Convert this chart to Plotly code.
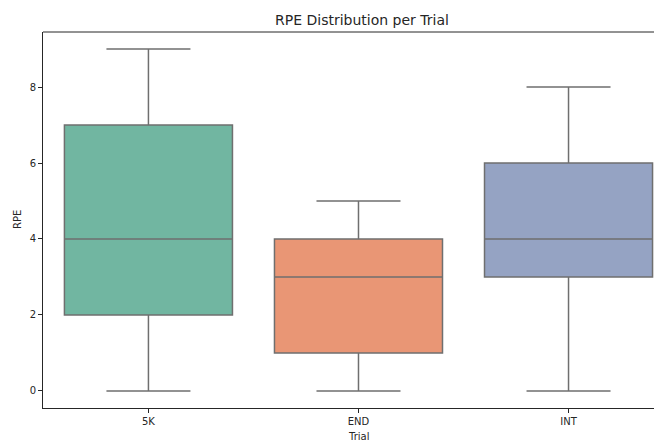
import plotly.graph_objects as go

categories = ["5K", "END", "INT"]
mins = [0, 0, 0]
q1s = [2, 1, 3]
medians = [4, 3, 4]
q3s = [7, 4, 6]
maxs = [9, 5, 8]
fill_colors = ["#71b6a1", "#e99675", "#95a3c3"]
line_color = "#6f6f6f"
y_ticks = [0, 2, 4, 6, 8]

fig = go.Figure()
for i, c in enumerate(categories):
    fig.add_trace(go.Box(
        x=[c], q1=[q1s[i]], median=[medians[i]], q3=[q3s[i]],
        lowerfence=[mins[i]], upperfence=[maxs[i]],
        fillcolor=fill_colors[i],
        line=dict(color=line_color, width=1.5),
        width=0.8,
        whiskerwidth=0.5, boxpoints=False, showlegend=False,
        hoverinfo="skip",
    ))

fig.update_layout(
    width=654, height=435,
    margin=dict(l=35, r=0, t=24, b=35, autoexpand=False),
    paper_bgcolor="white", plot_bgcolor="white",
    boxmode="overlay",
    font=dict(family="DejaVu Sans", size=10, color="#262626"),
    xaxis=dict(
        type="category", categoryorder="array", categoryarray=categories,
        range=[-0.502, 2.445], showgrid=False, zeroline=False,
        showline=True, linecolor="#262626", linewidth=1,
        ticks="outside", ticklen=4, tickcolor="#262626",
        automargin=False,
    ),
    yaxis=dict(
        range=[-0.45, 9.45], tickvals=y_ticks, showgrid=False, zeroline=False,
        showline=True, linecolor="#262626", linewidth=1,
        ticks="outside", ticklen=4, tickcolor="#262626",
        automargin=False,
    ),
    shapes=[dict(type="line", xref="paper", yref="paper", x0=0, x1=1, y0=1, y1=1,
                 line=dict(color="#262626", width=1))],
    annotations=[
        dict(text="RPE Distribution per Trial", xref="paper", yref="paper",
             x=(362 - 43) / 619, y=1 + 11.5 / 376, xanchor="center", yanchor="middle",
             showarrow=False, font=dict(size=14, color="#262626")),
        dict(text="Trial", xref="paper", yref="paper",
             x=(358 - 43) / 619, y=-28 / 376, xanchor="center", yanchor="middle",
             showarrow=False, font=dict(size=10, color="#262626")),
        dict(text="RPE", xref="paper", yref="paper", textangle=-90,
             x=-26 / 619, y=0.5, xanchor="center", yanchor="middle",
             showarrow=False, font=dict(size=10, color="#262626")),
    ],
)

fig.write_html("out.html")
